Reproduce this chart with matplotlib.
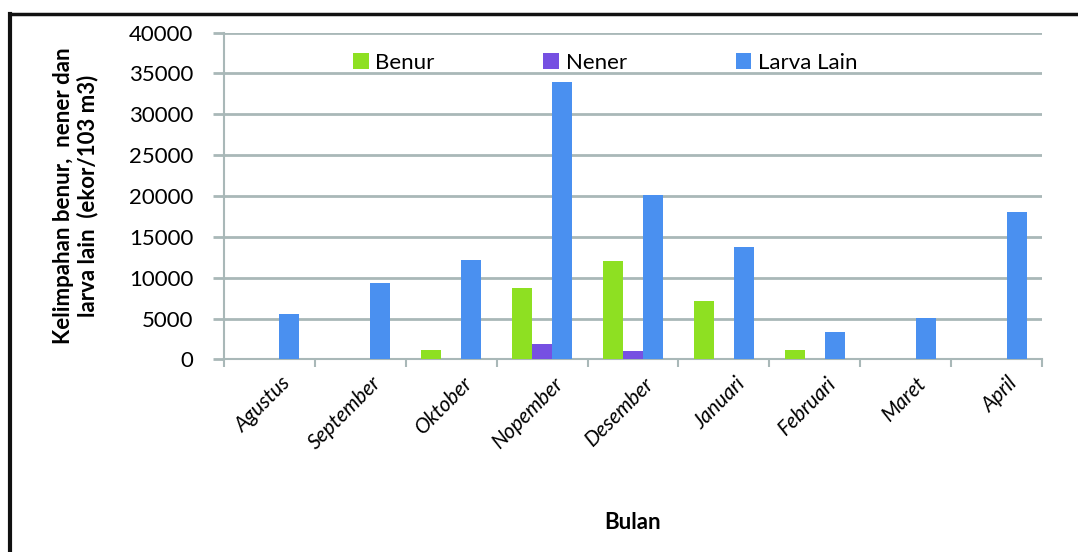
import matplotlib.pyplot as plt
import numpy as np
from matplotlib.lines import Line2D

bulan = ['Agustus', 'September', 'Oktober', 'Nopember', 'Desember',
         'Januari', 'Februari', 'Maret', 'April']
benur = [0, 0, 1100, 8700, 12000, 7100, 1200, 0, 0]
nener = [0, 0, 0, 1900, 1050, 0, 0, 0, 0]
larva_lain = [5500, 9300, 12100, 34000, 20100, 13700, 3300, 5100, 18000]

plt.rcParams['font.family'] = ['Lato', 'DejaVu Sans']

fig = plt.figure(figsize=(10.78, 5.52), dpi=100)
ax = fig.add_axes([0.2078, 0.349, 0.7588, 0.592])

x = np.arange(len(bulan))
w = 0.22
ax.bar(x - w, benur, w, color='#8ee022', label='Benur', zorder=3)
ax.bar(x, nener, w, color='#7650e2', label='Nener', zorder=3)
ax.bar(x + w, larva_lain, w, color='#4a90f0', label='Larva Lain', zorder=3)

ax.set_xlim(-0.5, len(bulan) - 0.5)
ax.set_ylim(0, 40000)
ax.set_yticks(np.arange(0, 40001, 5000))
ax.yaxis.grid(True, color='#a9b8b8', linewidth=2, zorder=0)

# category ticks sit on the boundaries between months
ax.set_xticks(np.arange(-0.5, len(bulan), 1.0), minor=False)
ax.set_xticklabels([])
ax.set_xticks(x + 0.12, minor=True)
ax.set_xticklabels(bulan, minor=True, rotation=45, ha='right',
                   rotation_mode='anchor', fontstyle='italic', fontsize=15)
ax.tick_params(axis='x', which='minor', length=0, pad=10)
ax.tick_params(axis='x', which='major', length=6, width=1.5, color='#a9b8b8')
ax.tick_params(axis='y', length=8, width=2, color='#a9b8b8', labelsize=16,
               pad=14)

for s in ['top', 'right']:
    ax.spines[s].set_visible(False)
for s in ['left', 'bottom']:
    ax.spines[s].set_color('#a9b8b8')
    ax.spines[s].set_linewidth(1.5)

ax.set_ylabel('Kelimpahan benur,  nener dan\nlarva lain  (ekor/103 m3)',
              fontsize=16, fontweight='bold', labelpad=22, linespacing=1.15)
ax.set_xlabel('Bulan', fontsize=16, fontweight='bold', labelpad=42)

ax.legend(loc='upper center', bbox_to_anchor=(0.466, 1.0), ncol=3, frameon=False,
          fontsize=16, handlelength=0.7, handleheight=0.7, handletextpad=0.3,
          columnspacing=4.9)

# outer frame
fig.add_artist(Line2D([0.009, 1.0], [0.975, 0.975], color='#111111',
                      linewidth=2.5, transform=fig.transFigure))
fig.add_artist(Line2D([0.009, 0.009], [0.0, 0.975], color='#111111',
                      linewidth=3, transform=fig.transFigure))

fig.savefig('out.png', dpi=100)
